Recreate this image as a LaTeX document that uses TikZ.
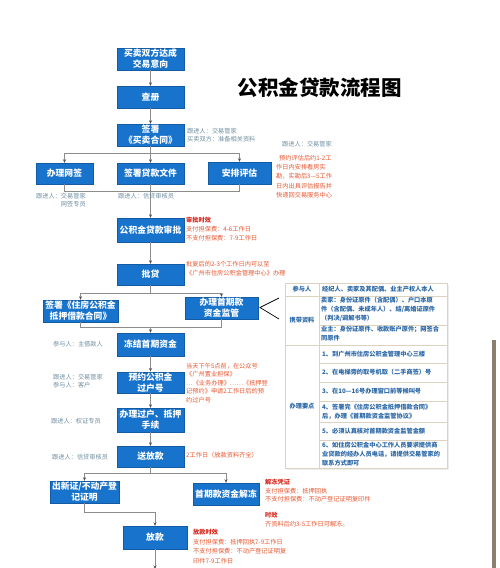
\documentclass[tikz,border=0pt]{standalone}
\usepackage{fontspec}
\setmainfont{Noto Sans CJK SC}
\usetikzlibrary{arrows.meta}
\definecolor{boxblue}{HTML}{1873CC}
\definecolor{linegray}{HTML}{8C8C8C}
\definecolor{tipgray}{HTML}{505050}
\definecolor{lblgray}{HTML}{6F8EA0}
\definecolor{redtxt}{HTML}{E8552E}
\definecolor{redhd}{HTML}{D8261C}
\definecolor{tblline}{HTML}{DDD2C0}
\definecolor{tbltxt}{HTML}{2A67A6}
\definecolor{barcol}{HTML}{8B7F70}
\tikzset{
  flowbox/.style={draw=boxblue!80!black, line width=0.4pt, fill=boxblue, text=white,
    font=\fontsize{8.8}{11}\selectfont\bfseries, align=center, inner sep=1pt},
  conn/.style={draw=linegray, line width=0.8pt},
  arr/.style={conn, -{Stealth[length=3.5pt,width=3pt,color=tipgray]}},
  lbl/.style={text=lblgray, font=\fontsize{6.2}{8.5}\selectfont, inner sep=0pt, align=left},
  rlbl/.style={text=redtxt, font=\fontsize{6.2}{9.2}\selectfont, inner sep=0pt, align=left},
  ttxt/.style={text=tbltxt, font=\fontsize{6.2}{9}\selectfont\bfseries, inner sep=0pt, align=left},
}
\newcommand{\hd}[1]{{\color{redhd}\bfseries #1}}
\begin{document}
\begin{tikzpicture}[x=1pt,y=-1pt]
\useasboundingbox (0,0) rectangle (500,568);
\fill[white] (0,0) rectangle (500,568);

% title
\node[font=\fontsize{20.5}{22}\selectfont\bfseries, inner sep=0pt] (title) at (319.5,88) {公积金贷款流程图};

% boxes
\node[flowbox, minimum width=67pt, minimum height=22pt] (b1) at (150.5,59) {买卖双方达成\\交易意向};
\node[flowbox, minimum width=67pt, minimum height=22pt] (b2) at (150.5,97) {查册};
\node[flowbox, minimum width=67pt, minimum height=22pt] (b3) at (150.5,135) {签署\\《买卖合同》};
\node[flowbox, minimum width=57pt, minimum height=21pt] (b4a) at (64.5,173.5) {办理网签};
\node[flowbox, minimum width=67pt, minimum height=21pt] (b4b) at (150.5,173.5) {签署贷款文件};
\node[flowbox, minimum width=63pt, minimum height=22pt] (b4c) at (239.5,173) {安排评估};
\node[flowbox, minimum width=67pt, minimum height=24pt] (b5) at (150.5,230) {公积金贷款审批};
\node[flowbox, minimum width=67pt, minimum height=21pt] (b6) at (150.5,274.5) {批贷};
\node[flowbox, minimum width=75pt, minimum height=22pt] (b7a) at (80.5,311) {签署《住房公积金\\抵押借款合同》};
\node[flowbox, minimum width=73pt, minimum height=22pt] (b7b) at (221.5,308) {办理首期款\\资金监管};
\node[flowbox, minimum width=67pt, minimum height=23pt] (b8) at (150.5,344.5) {冻结首期资金};
\node[flowbox, minimum width=67pt, minimum height=21pt] (b9) at (150.5,382.5) {预约公积金\\过户号};
\node[flowbox, minimum width=67pt, minimum height=24pt] (b10) at (150.5,420) {办理过户、抵押\\手续};
\node[flowbox, minimum width=67pt, minimum height=21pt] (b11) at (150.5,456.5) {送放款};
\node[flowbox, minimum width=69pt, minimum height=22pt] (b12a) at (84.5,492) {出新证/不动产登\\记证明};
\node[flowbox, minimum width=66pt, minimum height=22pt] (b12b) at (226,494) {首期款资金解冻};
\node[flowbox, minimum width=64pt, minimum height=23pt] (b13) at (155,537.5) {放款};

% junction coordinates
\coordinate (j1) at (150.5,153);
\coordinate (j2) at (150.5,191);
\coordinate (j3) at (150.5,293);
\coordinate (j4) at (150.5,327);
\coordinate (j5) at (150.5,473);
\coordinate (j6) at (155,512);
\coordinate (j7) at (155,569);

% connectors
\draw[arr] (b1) -- (b2);
\draw[arr] (b2) -- (b3);
\draw[arr] (b3) -- (b4b);
\draw[arr] (j1) -| (b4a.north);
\draw[arr] (j1) -| (b4c.north);
\draw[conn] (b4a.south) |- (j2);
\draw[conn] (b4c.south) |- (j2);
\draw[arr] (b4b) -- (b5);
\draw[arr] (b5) -- (b6);
\draw[conn] (b6.south) -- (j3);
\draw[arr] (j3) -| (b7a.north);
\draw[arr] (j3) -| (b7b.north);
\draw[conn] (b7a.south) |- (j4);
\draw[conn] (b7b.south) |- (j4);
\draw[arr] (j4) -- (b8.north);
\draw[arr] (b8) -- (b9);
\draw[arr] (b9) -- (b10);
\draw[arr] (b10) -- (b11);
\draw[conn] (b11.south) -- (j5);
\draw[arr] (j5) -| (b12a.north);
\draw[arr] (j5) -| (b12b.north);
\draw[arr] (b12a.south) |- (j6) -- (b13.north);
\draw[arr] (b13.south) -- (j7);

% labels (gray)
\node[lbl, anchor=west] (l3) at (187,135) {跟进人：交易管家\\买卖双方：准备相关资料};
\node[lbl, anchor=north west] (l4a) at (36,193) {跟进人：交易管家\\\phantom{跟进人：}网签专员};
\node[lbl, anchor=north west] (l4b) at (118,193) {跟进人：信贷审核员};
\node[lbl, anchor=west] (l4c) at (282,144) {跟进人：交易管家};
\node[lbl, anchor=west] (l8) at (53,344) {参与人：主借款人};
\node[lbl, anchor=west] (l9) at (53,381) {跟进人：交易管家\\参与人：客户};
\node[lbl, anchor=west] (l10) at (51,421) {跟进人：权证专员};
\node[lbl, anchor=west] (l11) at (52,457) {跟进人：信贷审核员};

% labels (red)
\node[rlbl, anchor=north west] (r4c) at (276,155) {\hspace{3pt}预约评估后约1-2工\\作日内安排看房实\\勘，实勘后3—5工作\\日内出具评估报告并\\快递回交易服务中心};
\node[rlbl, anchor=north west] (r5) at (186,217) {\hd{审批时效}\\支付担保费：4-6工作日\\不支付担保费：7-9工作日};
\node[rlbl, anchor=north west] (r6) at (186,261) {批复后的2-3个工作日内可以至\\《广州市住房公积金管理中心》办理};
\node[rlbl, font=\fontsize{6.2}{8.4}\selectfont, anchor=north west] (r9) at (186,363) {当天下午5点前，在公众号\\《广州置业担保》\\…《业务办理》……《抵押登\\记预约》申请2工作日后的预\\约过户号};
\node[rlbl, anchor=west] (r11) at (186,455) {2工作日（放款资料齐全）};
\node[rlbl, font=\fontsize{6.2}{8.6}\selectfont, anchor=north west] (r12b) at (265,479) {\hd{解冻凭证}\\支付担保费：抵押回执\\不支付担保费：不动产登记证明复印件};
\node[rlbl, font=\fontsize{6.2}{8.6}\selectfont, anchor=north west] (r12c) at (265,512) {\hd{时效}\\齐资料后约3-5工作日可解冻。};
\node[rlbl, font=\fontsize{6.2}{9.6}\selectfont, anchor=north west] (r13) at (193,529) {\hd{放款时效}\\支付担保费：抵押回执7-9工作日\\不支付担保费：不动产登记证明复\\印件7-9工作日};

% pointer lines to table
\coordinate (pv) at (260,307.5);
\coordinate (pa) at (279,298);
\coordinate (pb) at (279,319);
\draw[black, line width=0.7pt] (pa) -- (pv) -- (pb);

% table
\fill[black!7] (287,285) rectangle (449,470);
\filldraw[fill=white, draw=tblline, line width=0.6pt] (285,283) rectangle (447,468);
\draw[tblline, line width=0.6pt] (319,283) -- (319,468);
\draw[tblline, line width=0.6pt] (285,296) -- (447,296);
\draw[tblline, line width=0.6pt] (285,345) -- (447,345);
\draw[tblline, line width=0.6pt] (319,325) -- (447,325);
\foreach \yy in {363,382,401,422,440} \draw[tblline, line width=0.6pt] (319,\yy) -- (447,\yy);

\node[ttxt, align=center] (tc1) at (302,289.5) {参与人};
\node[ttxt, align=center] (tc2) at (302,320) {携带资料};
\node[ttxt, align=center] (tc3) at (302,406) {办理要点};
\node[ttxt, anchor=west] (t1) at (322,289.5) {经纪人、卖家及其配偶、业主产权人本人};
\node[ttxt, anchor=north west] (t2) at (321,296.5) {卖家：身份证原件（含配偶）、户口本原\\件（含配偶、未成年人）、结/离婚证原件\\（判决/调解书等）};
\node[ttxt, anchor=north west] (t3) at (321,326) {业主：身份证原件、收款账户原件；网签合\\同原件};
\node[ttxt, anchor=west] (t4) at (322,354) {1、到广州市住房公积金管理中心三楼};
\node[ttxt, anchor=west] (t5) at (322,372.5) {2、在电梯旁的取号机取（二手商签）号};
\node[ttxt, anchor=west] (t6) at (322,391.5) {3、在10—16号办理窗口前等候叫号};
\node[ttxt, anchor=west] (t7) at (322,411.5) {4、签署完《住房公积金抵押借款合同》\\后，办理《首期款资金监管协议》};
\node[ttxt, anchor=west] (t8) at (322,431) {5、必须认真核对首期款资金监管金额};
\node[ttxt, anchor=west] (t9) at (322,454) {6、如住房公积金中心工作人员要求提供商\\业贷款的经办人员电话，请提供交易管家的\\联系方式即可};

% scroll bar
\fill[barcol] (492,340) rectangle (496,568);
\end{tikzpicture}
\end{document}
